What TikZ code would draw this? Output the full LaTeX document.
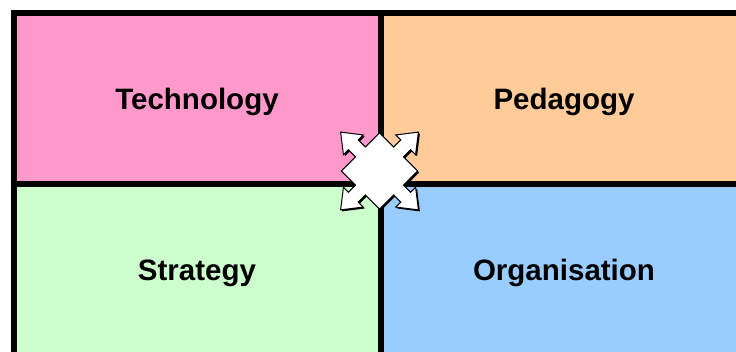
\documentclass[tikz,border=0pt]{standalone}
\usepackage{fontspec}
\setmainfont{Liberation Sans}
\definecolor{techpink}{HTML}{FF99CC}
\definecolor{pedpeach}{HTML}{FFCC99}
\definecolor{strgreen}{HTML}{CCFFCC}
\definecolor{orgblue}{HTML}{99CCFF}
\begin{document}
\begin{tikzpicture}[x=1pt,y=-1pt,
  gridline/.style={draw=black,line width=6pt},
  celltext/.style={font=\fontsize{29.5}{34}\selectfont\bfseries,anchor=base,inner sep=0pt},
  quadshape/.style={fill=white,draw=black,line width=1pt,line join=miter},
  quadshadow/.style={fill=black}]
\useasboundingbox (0,0) rectangle (736,352);
% cells
\fill[techpink] (14,13) rectangle (381,184);
\fill[pedpeach] (381,13) rectangle (760,184);
\fill[strgreen] (14,184) rectangle (381,370);
\fill[orgblue] (381,184) rectangle (760,370);
% grid lines
\coordinate (tl) at (14,13);
\coordinate (tr) at (760,13);
\coordinate (bl) at (14,370);
\coordinate (vt) at (381,13);
\coordinate (vb) at (381,370);
\coordinate (hl) at (14,184);
\coordinate (hr) at (760,184);
\draw[gridline,line cap=rect] (bl) -- (tl) -- (tr);
\draw[gridline] (vt) -- (vb);
\draw[gridline] (hl) -- (hr);
% labels
\node[celltext] (tech) at (197,109.5) {Technology};
\node[celltext] (ped) at (564,109.5) {Pedagogy};
\node[celltext] (strat) at (197,280.5) {Strategy};
\node[celltext] (org) at (564,280.5) {Organisation};
% central quad arrow
\def\quadpath{(27,-7) -- (37,-7) -- (37,-14) -- (55,0) -- (37,14) -- (37,7) -- (27,7) -- (27,27)
  -- (7,27) -- (7,37) -- (14,37) -- (0,55) -- (-14,37) -- (-7,37) -- (-7,27) -- (-27,27)
  -- (-27,7) -- (-37,7) -- (-37,14) -- (-55,0) -- (-37,-14) -- (-37,-7) -- (-27,-7) -- (-27,-27)
  -- (-7,-27) -- (-7,-37) -- (-14,-37) -- (0,-55) -- (14,-37) -- (7,-37) -- (7,-27) -- (27,-27) -- cycle}
\begin{scope}[shift={(381,172.5)},rotate=45]
\path[quadshadow] \quadpath;
\end{scope}
\begin{scope}[shift={(379.5,171)},rotate=45]
\path[quadshape] \quadpath;
\end{scope}
\end{tikzpicture}
\end{document}
